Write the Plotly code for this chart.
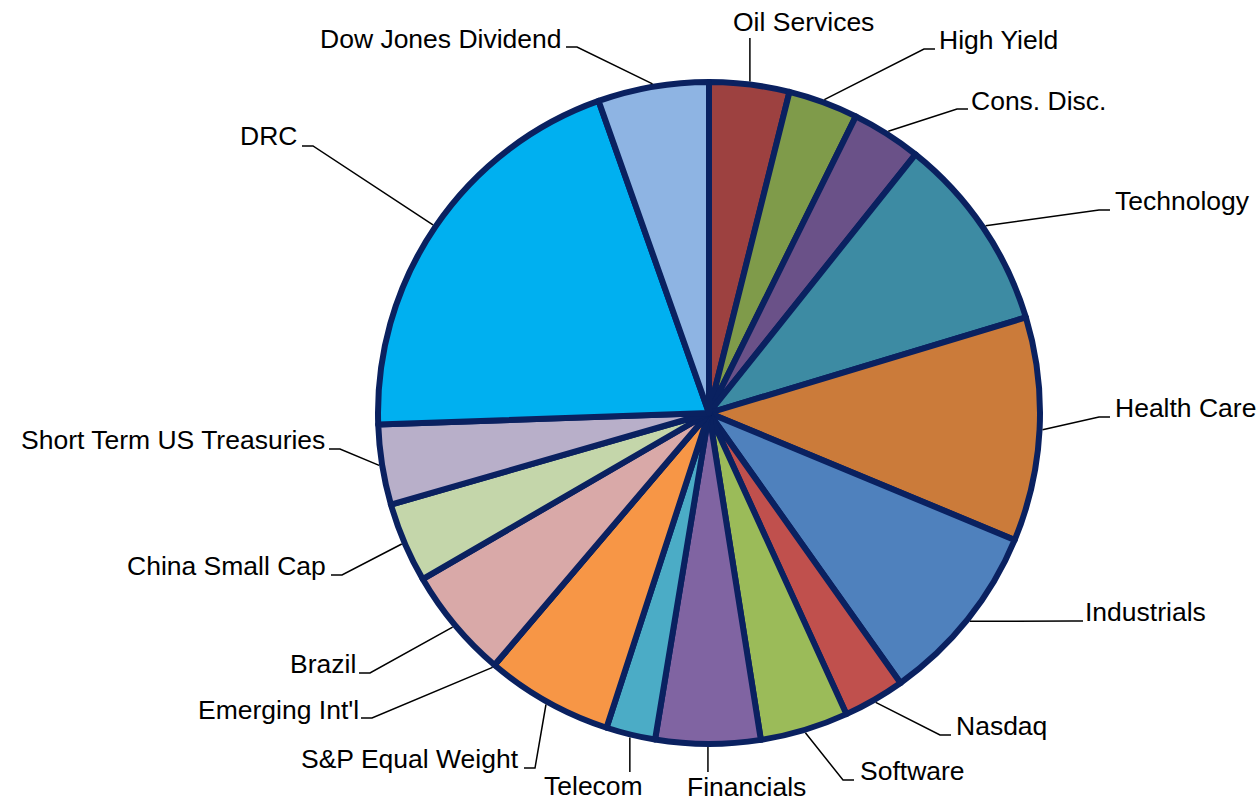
import math
import plotly.graph_objects as go

# Portfolio allocation by holding (percent of portfolio), clockwise from 12 o'clock
holdings = [
    "Oil Services", "High Yield", "Cons. Disc.", "Technology", "Health Care",
    "Industrials", "Nasdaq", "Software", "Financials", "Telecom",
    "S&P Equal Weight", "Emerging Int'l", "Brazil", "China Small Cap",
    "Short Term US Treasuries", "DRC", "Dow Jones Dividend",
]
weights = [3.9, 3.4, 3.4, 9.6, 10.9, 8.9, 3.0, 4.3, 5.1, 2.4,
           6.2, 0.0, 5.4, 3.9, 3.9, 20.1, 5.4]
colors = [
    "#9D4140", "#7F9B4A", "#6A5188", "#3D8BA3", "#CB7B3A",
    "#4F81BD", "#C0504D", "#9BBB59", "#8064A2", "#4BACC6",
    "#F79646", "#2C4D75", "#D9A9A8", "#C4D6AA", "#B8AFC9",
    "#00B0F0", "#8EB4E3",
]

# ---- page geometry (pixels) ----
W, H = 1260, 802
CX, CY, R = 709, 413, 331
EDGE = "#0A2160"

# Label placement: leader elbow (x, y), side, text anchor (x, y)
# side "r"/"l": short horizontal tick after the elbow; "t"/"b": vertical leader
label_layout = {
    "Oil Services":             ((None, 38), "t", (803, 22)),
    "High Yield":               ((924, 49), "r", (937, 40)),
    "Cons. Disc.":              ((957, 109), "r", (969, 101)),
    "Technology":               ((1099, 210), "r", (1113, 201)),
    "Health Care":              ((1099, 417), "r", (1113, 408)),
    "Industrials":              ((1072, 621), "r", (1083, 612)),
    "Nasdaq":                   ((940, 735), "r", (954, 726)),
    "Software":                 ((843, 780), "r", (858, 771)),
    "Financials":               ((None, 772), "b", (746, 787)),
    "Telecom":                  ((None, 772), "b", (593, 786)),
    "S&P Equal Weight":         ((535, 768), "l", (521, 759)),
    "Emerging Int'l":           ((372, 718), "l", (361, 710)),
    "Brazil":                   ((370, 673), "l", (358, 664)),
    "China Small Cap":          ((342, 575), "l", (328, 566)),
    "Short Term US Treasuries": ((340, 449), "l", (327, 440)),
    "DRC":                      ((313, 146), "l", (299, 136)),
    "Dow Jones Dividend":       ((577, 47), "l", (564, 39)),
}
TICK = 11


def px(x):
    return x / W


def py(y):
    return 1 - y / H


fig = go.Figure(go.Pie(
    labels=holdings,
    values=weights,
    sort=False,
    direction="clockwise",
    rotation=0,
    textinfo="none",
    hoverinfo="label+percent",
    marker=dict(colors=colors, line=dict(color=EDGE, width=6)),
    domain=dict(x=[(CX - R) / W, (CX + R) / W],
                y=[(H - CY - R) / H, (H - CY + R) / H]),
    showlegend=False,
))

total = sum(weights)
shapes, annotations = [], []
cum = 0.0
for name, v in zip(holdings, weights):
    mid = math.radians((cum + v / 2) / total * 360)
    cum += v
    rx = CX + (R + 3) * math.sin(mid)
    ry = CY - (R + 3) * math.cos(mid)
    (ex, ey), side, (tx, ty) = label_layout[name]
    if side in ("t", "b"):
        pts = [(rx, ry), (rx, ey)]
        xanchor = "center"
    elif side == "r":
        pts = [(rx, ry), (ex, ey), (ex + TICK, ey)]
        xanchor = "left"
    else:
        pts = [(rx, ry), (ex, ey), (ex - TICK, ey)]
        xanchor = "right"
    path = "M " + " L ".join(f"{px(x):.5f},{py(y):.5f}" for x, y in pts)
    shapes.append(dict(type="path", xref="paper", yref="paper", path=path,
                       line=dict(color="black", width=1.5)))
    annotations.append(dict(
        text=name, x=px(tx), y=py(ty), xref="paper", yref="paper",
        xanchor=xanchor, yanchor="middle", showarrow=False,
        font=dict(family="Arial, Liberation Sans, sans-serif", size=26.5,
                  color="black"),
    ))

fig.update_layout(
    width=W, height=H,
    margin=dict(l=0, r=0, t=0, b=0),
    paper_bgcolor="white",
    plot_bgcolor="white",
    shapes=shapes,
    annotations=annotations,
)

fig.write_html("out.html")
